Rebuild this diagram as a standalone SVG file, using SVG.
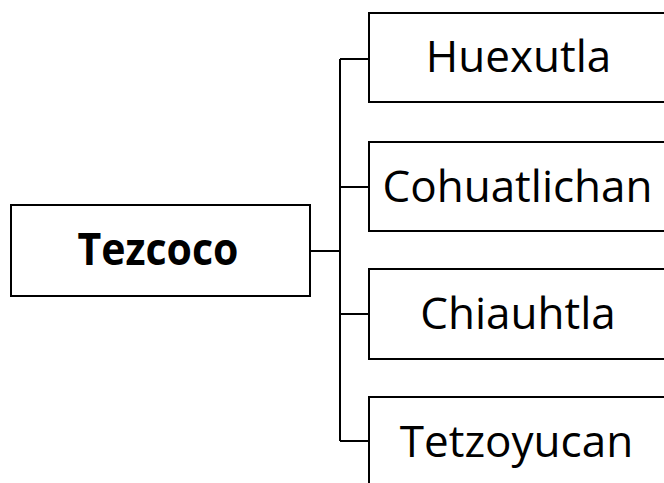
<svg xmlns="http://www.w3.org/2000/svg" width="664" height="483" viewBox="0 0 664 483">
<style>
.box{fill:#fff;stroke:#000;stroke-width:2}
.conn{fill:none;stroke:#000;stroke-width:2}
.t{font-family:"Open Sans","Liberation Sans",sans-serif;font-size:44px;fill:#000;text-anchor:middle}
.b{font-weight:bold}
</style>
<rect width="664" height="483" fill="#fff"/>
<g id="connectors">
<path class="conn" d="M310,251H340M340,59V441M340,59H369M340,187H369M340,314H369M340,441H369"/>
</g>
<g id="tezcoco">
<rect class="box" x="11" y="205" width="299" height="91"/>
<text class="t b" x="158" y="265" textLength="161" lengthAdjust="spacingAndGlyphs">Tezcoco</text>
</g>
<g id="huexutla">
<rect class="box" x="369" y="13" width="300" height="89"/>
<text class="t" x="518.5" y="72">Huexutla</text>
</g>
<g id="cohuatlichan">
<rect class="box" x="369" y="142" width="300" height="89"/>
<text class="t" x="517.5" y="202">Cohuatlichan</text>
</g>
<g id="chiauhtla">
<rect class="box" x="369" y="269" width="300" height="90"/>
<text class="t" x="518" y="329">Chiauhtla</text>
</g>
<g id="tetzoyucan">
<rect class="box" x="369" y="397" width="300" height="90"/>
<text class="t" x="516.5" y="457">Tetzoyucan</text>
</g>
</svg>
